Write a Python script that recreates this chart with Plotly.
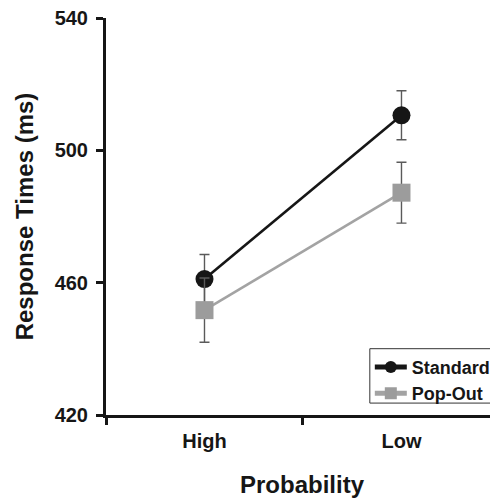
import plotly.graph_objects as go

categories = ["High", "Low"]
standard = [461.1, 510.6]
standard_err = [7.4, 7.4]
popout = [451.7, 487.2]
popout_err = [9.7, 9.2]
y_ticks = [420, 460, 500, 540]

FONT = "Liberation Sans, Arial, Helvetica, sans-serif"
DARK = "#161616"
GREY = "#9c9c9c"

fig = go.Figure()
fig.add_trace(go.Scatter(
    x=categories, y=standard, name="Standard", mode="lines+markers",
    line=dict(color=DARK, width=2.6),
    marker=dict(symbol="circle", size=18, color=DARK),
    error_y=dict(type="data", array=standard_err, color="#5a5a5a", thickness=1.4, width=5),
))
fig.add_trace(go.Scatter(
    x=categories, y=popout, name="Pop-Out", mode="lines+markers",
    line=dict(color="#a3a3a3", width=2.6),
    marker=dict(symbol="square", size=18, color=GREY),
    error_y=dict(type="data", array=popout_err, color="#5a5a5a", thickness=1.4, width=5),
))

# legend frame (extends past the right edge, as in the original)
fig.add_shape(type="rect", xref="paper", yref="paper",
              x0=0.673, x1=1.08, y0=0.03, y1=0.167,
              line=dict(color="#333333", width=1), fillcolor="white", layer="above")

fig.update_layout(
    width=490, height=491,
    margin=dict(l=98, r=0, t=10, b=84),
    paper_bgcolor="white", plot_bgcolor="white",
    font=dict(family=FONT, color=DARK, size=20, weight="bold"),
    showlegend=True,
    legend=dict(
        x=0.673, y=0.167, xanchor="left", yanchor="top",
        borderwidth=0, bgcolor="rgba(0,0,0,0)",
        font=dict(size=18, family=FONT, color=DARK, weight="bold"),
        itemsizing="constant", tracegroupgap=0, itemwidth=32,
    ),
)
fig.update_xaxes(
    type="category", range=[-0.5, 1.49], tickson="boundaries",
    showline=True, linecolor=DARK, linewidth=3,
    ticks="outside", ticklen=7, tickwidth=2.5, tickcolor=DARK,
    showgrid=False, zeroline=False,
    tickfont=dict(size=20, family=FONT, color=DARK, weight="bold"),
    ticklabelstandoff=6, ticklabeloverflow="allow",
    title=dict(text="Probability", font=dict(size=24, family=FONT, color=DARK, weight="bold"), standoff=26),
)
fig.update_yaxes(
    range=[420, 540], tickvals=y_ticks, ticktext=[str(v) for v in y_ticks],
    showline=True, linecolor=DARK, linewidth=3,
    ticks="outside", ticklen=7, tickwidth=2.5, tickcolor=DARK,
    showgrid=False, zeroline=False,
    tickfont=dict(size=20, family=FONT, color=DARK, weight="bold"),
    ticklabelstandoff=4, ticklabeloverflow="allow",
    title=dict(text="Response Times (ms)", font=dict(size=24, family=FONT, color=DARK, weight="bold"), standoff=15),
)

fig.write_html("out.html")
